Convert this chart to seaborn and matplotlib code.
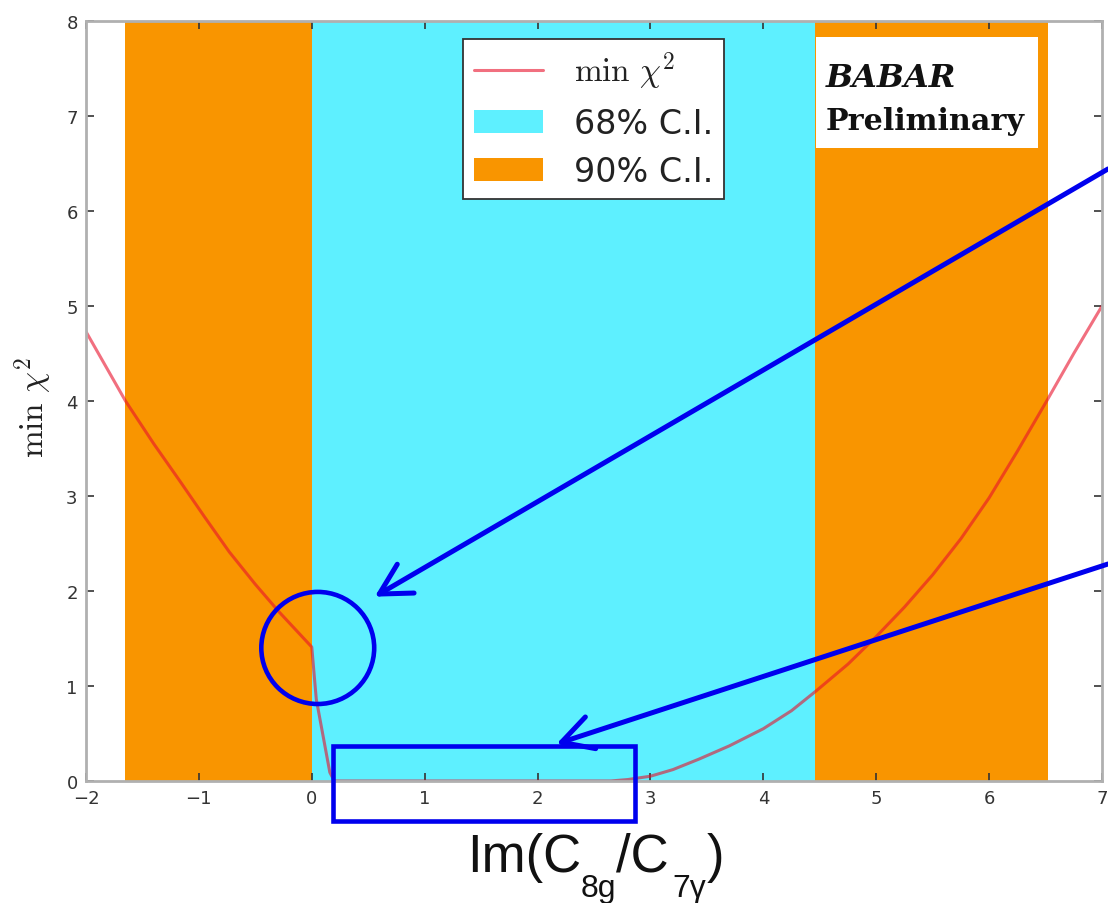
import matplotlib
matplotlib.use("Agg")
import matplotlib.pyplot as plt
from matplotlib.patches import Ellipse, Rectangle
import seaborn as sns

# scan of the minimum chi^2 versus Im(C8g/C7gamma)
im_ratio = [-2.0, -1.65, -1.4, -1.17, -0.95, -0.73, -0.5, -0.29, 0.0, 0.04, 0.16, 0.2,
            2.65, 2.8, 3.0, 3.2, 3.43, 3.7, 4.0, 4.25, 4.47, 4.75, 5.0, 5.25, 5.5,
            5.75, 6.0, 6.25, 6.51, 6.75, 7.0]
min_chi2 = [4.73, 4.0, 3.55, 3.16, 2.78, 2.41, 2.07, 1.78, 1.41, 0.86, 0.09, 0.0,
            0.0, 0.015, 0.05, 0.12, 0.23, 0.37, 0.55, 0.74, 0.95, 1.23, 1.52, 1.83, 2.17,
            2.55, 2.98, 3.47, 4.0, 4.5, 5.0]

# confidence intervals
ci68 = (0.0, 4.46)
ci90 = [(-1.65, 0.0), (4.46, 6.52)]

x_ticks = [-2, -1, 0, 1, 2, 3, 4, 5, 6, 7]
y_ticks = [0, 1, 2, 3, 4, 5, 6, 7, 8]

CYAN = "#5ef0ff"
ORANGE = "#f99500"
BLUE = "#0000ee"
LINE_LABEL = r"$\min\ \chi^2$"

sns.set_style("ticks")
plt.rcParams["font.family"] = ["DejaVu Sans"]

fig = plt.figure(figsize=(11.08, 9.04), dpi=100)
ax = fig.add_axes([0.0776, 0.135, 0.917, 0.8407])

ax.axvspan(*ci68, color=CYAN, lw=0, zorder=0, label="68% C.I.")
for i, (lo, hi) in enumerate(ci90):
    ax.axvspan(lo, hi, color=ORANGE, lw=0, zorder=0,
               label="90% C.I." if i == 0 else None)

sns.lineplot(x=im_ratio, y=min_chi2, ax=ax, color="#e8102a", alpha=0.6, lw=2.2,
             sort=False, estimator=None, zorder=2, label=LINE_LABEL)

ax.set_xlim(-2, 7)
ax.set_ylim(0, 8)
ax.set_xticks(x_ticks)
ax.set_yticks(y_ticks)
ax.tick_params(direction="in", length=6, width=1.2, color="#333333",
               top=True, right=True, labelsize=13, labelcolor="#333333", pad=6)
for s in ax.spines.values():
    s.set_color("#b0b0b0")
    s.set_linewidth(2)
    s.set_visible(True)

ax.set_ylabel(LINE_LABEL, fontsize=24, math_fontfamily="cm", color="#222222")
ax.yaxis.set_label_coords(-0.030, 0.492)

# x-axis title built from pieces so the subscripts sit low
xl_kw = dict(family="Liberation Sans", color="#111111", va="baseline", ha="left",
             annotation_clip=False)
t_main = fig.text(467 / 1108, 32 / 904, "Im(C", fontsize=38, family="Liberation Sans",
                  color="#111111", va="baseline", ha="left")
t_sub1 = ax.annotate("8g", xy=(1, 7), xycoords=(t_main, "figure pixels"),
                     xytext=(0, 0), textcoords="offset pixels", fontsize=23, **xl_kw)
t_slash = ax.annotate("/C", xy=(1, 32), xycoords=(t_sub1, "figure pixels"),
                      xytext=(-1, 0), textcoords="offset pixels", fontsize=38, **xl_kw)
t_sub2 = ax.annotate("7γ", xy=(1, 7), xycoords=(t_slash, "figure pixels"),
                     xytext=(4, 0), textcoords="offset pixels", fontsize=23, **xl_kw)
ax.annotate(")", xy=(1, 32), xycoords=(t_sub2, "figure pixels"),
            xytext=(1, 0), textcoords="offset pixels", fontsize=38, **xl_kw)

# legend with line first, then the two bands
handles, labels = ax.get_legend_handles_labels()
order = [labels.index(LINE_LABEL), labels.index("68% C.I."), labels.index("90% C.I.")]
leg = ax.legend([handles[i] for i in order], [labels[i] for i in order],
                loc="upper left", bbox_to_anchor=(0.371, 0.976), borderaxespad=0,
                fontsize=24, frameon=True, fancybox=False, framealpha=1,
                edgecolor="#333333", handlelength=2.07, handletextpad=0.95,
                labelspacing=0.45, borderpad=0.32)
leg.get_frame().set_linewidth(1.3)
leg.get_texts()[0].set_math_fontfamily("cm")
for t in leg.get_texts():
    t.set_color("#222222")
leg.set_zorder(5)

# experiment tag
ax.add_patch(Rectangle((0.7185, 0.833), 0.2185, 0.146, transform=ax.transAxes,
                       facecolor="white", edgecolor="none", zorder=4))
ax.text(0.728, 0.915, "BABAR", transform=ax.transAxes, fontsize=23,
        family="DejaVu Serif", style="italic", weight="bold", color="#111111", zorder=6)
ax.text(0.728, 0.858, "Preliminary", transform=ax.transAxes, fontsize=21.7,
        family="DejaVu Serif", weight="bold", color="#111111", zorder=6)

# highlight marks
ax.add_patch(Ellipse((0.053, 1.40), 1.0, 1.18, fill=False, edgecolor=BLUE, lw=3.3,
                     zorder=7, clip_on=False))
ax.add_patch(Rectangle((0.186, -0.42), 2.68, 0.79, fill=False, edgecolor=BLUE, lw=3.3,
                       zorder=7, clip_on=False))
arrow = dict(arrowstyle="->,head_length=0.55,head_width=0.3", color=BLUE, lw=3.6,
             mutation_scale=40, shrinkA=0, shrinkB=0)
ax.annotate("", xy=(0.558, 1.94), xycoords="data", xytext=(1.0, 0.812),
            textcoords="figure fraction", arrowprops=arrow, zorder=8,
            annotation_clip=False)
ax.annotate("", xy=(2.168, 0.39), xycoords="data", xytext=(1.0, 0.375),
            textcoords="figure fraction", arrowprops=arrow, zorder=8,
            annotation_clip=False)

fig.savefig("out.png", dpi=100)
